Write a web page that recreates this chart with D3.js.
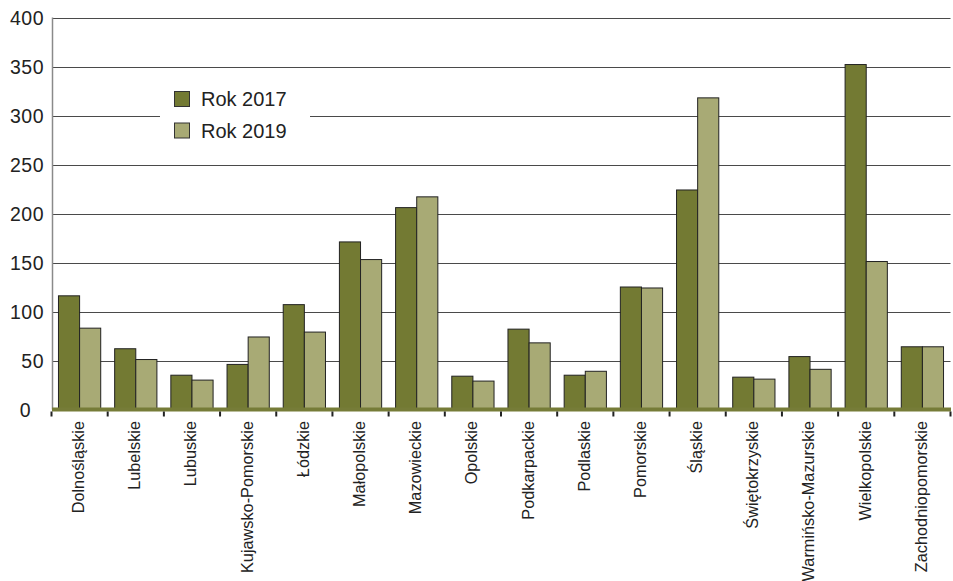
<!DOCTYPE html>
<html>
<head>
<meta charset="utf-8">
<script src="https://cdn.jsdelivr.net/npm/d3@7"></script>
<style>
  html, body { margin: 0; padding: 0; background: #fff; }
  svg { display: block; }
</style>
</head>
<body>
<svg id="chart" width="953" height="581"></svg>
<script>
const categories = ["Dolnośląskie","Lubelskie","Lubuskie","Kujawsko-Pomorskie","Łódzkie","Małopolskie","Mazowieckie","Opolskie","Podkarpackie","Podlaskie","Pomorskie","Śląskie","Świętokrzyskie","Warmińsko-Mazurskie","Wielkopolskie","Zachodniopomorskie"];
const seriesNames = ["Rok 2017", "Rok 2019"];
const values2017 = [116, 62, 35, 46, 107, 171, 206, 34, 82, 35, 125, 224, 33, 54, 352, 64];
const values2019 = [83, 51, 30, 74, 79, 153, 217, 29, 68, 39, 124, 318, 31, 41, 151, 64];
const yTicks = [0, 50, 100, 150, 200, 250, 300, 350, 400];
const colors = ["#737a33", "#a8aa75"];

const svg = d3.select("#chart");
const mLeft = 52, mRight = 950.5, mTop = 17.5, mBottom = 409.5;

const x0 = d3.scaleBand().domain(categories).range([mLeft - 0.5, mRight]).paddingInner(0).paddingOuter(0);
const x1 = d3.scaleBand().domain(seriesNames).range([0, x0.bandwidth()]).paddingInner(0).paddingOuter(0.33);
const y = d3.scaleLinear().domain([0, 400]).range([mBottom, mTop]);

// grid lines
svg.append("g").selectAll("line").data(yTicks.filter(d => d > 0)).join("line")
  .attr("x1", mLeft).attr("x2", mRight)
  .attr("y1", d => Math.round(y(d)) + 0.5).attr("y2", d => Math.round(y(d)) + 0.5)
  .attr("stroke", "#4a4a4a").attr("stroke-width", 1);

// y axis line
svg.append("line").attr("x1", mLeft + 0.5).attr("x2", mLeft + 0.5)
  .attr("y1", y(400)).attr("y2", y(0)).attr("stroke", "#8a8a8a").attr("stroke-width", 1.5);

// y labels
svg.append("g").selectAll("text").data(yTicks).join("text")
  .attr("x", d => d === 0 ? 31 : 44)
  .attr("y", d => y(d))
  .attr("dy", "0.36em")
  .attr("text-anchor", "end")
  .attr("font-family", "'Liberation Sans', Arial, sans-serif")
  .attr("font-size", 19.5)
  .attr("letter-spacing", 0.5)
  .attr("fill", "#222")
  .text(d => d3.format("d")(d));

// legend background + legend
const lg = svg.append("g");
lg.append("rect").attr("x", 160).attr("y", 80).attr("width", 150).attr("height", 62).attr("fill", "#fff");
seriesNames.forEach((s, i) => {
  lg.append("rect").attr("x", 174.5).attr("y", 91.5 + i * 31.5).attr("width", 15).attr("height", 15)
    .attr("fill", colors[i]).attr("stroke", "#333").attr("stroke-width", 1);
  lg.append("text").attr("x", 201).attr("y", 106 + i * 31.5)
    .attr("font-family", "'Liberation Sans', Arial, sans-serif").attr("font-size", 20)
    .attr("fill", "#222").text(s);
});

// bars
const data = categories.map((c, i) => ({ c, vals: [values2017[i], values2019[i]] }));
const groups = svg.append("g").selectAll("g").data(data).join("g")
  .attr("transform", d => `translate(${x0(d.c)},0)`);
groups.selectAll("rect").data(d => d.vals.map((v, i) => ({ s: seriesNames[i], v, i }))).join("rect")
  .attr("x", d => x1(d.s))
  .attr("y", d => y(d.v))
  .attr("width", x1.bandwidth())
  .attr("height", d => y(0) - y(d.v))
  .attr("fill", d => colors[d.i])
  .attr("stroke", "#222").attr("stroke-width", 1);

// baseline
svg.append("rect").attr("x", mLeft).attr("y", mBottom - 2).attr("width", mRight - mLeft + 0.5).attr("height", 4)
  .attr("fill", "#767c38");

// x ticks at band boundaries
const boundaries = categories.map(c => x0(c)).concat([x0(categories[categories.length - 1]) + x0.bandwidth()]);
svg.append("g").selectAll("line").data(boundaries).join("line")
  .attr("x1", d => d).attr("x2", d => d)
  .attr("y1", mBottom + 2).attr("y2", mBottom + 7)
  .attr("stroke", "#222").attr("stroke-width", 2);

// x labels
svg.append("g").selectAll("text").data(categories).join("text")
  .attr("transform", d => `translate(${x0(d) + x0.bandwidth() / 2},421) rotate(-90)`)
  .attr("text-anchor", "end")
  .attr("dy", "0.27em")
  .attr("font-family", "'Liberation Sans', Arial, sans-serif")
  .attr("font-size", 16.3)
  .attr("fill", "#222")
  .text(d => d);
</script>
</body>
</html>
